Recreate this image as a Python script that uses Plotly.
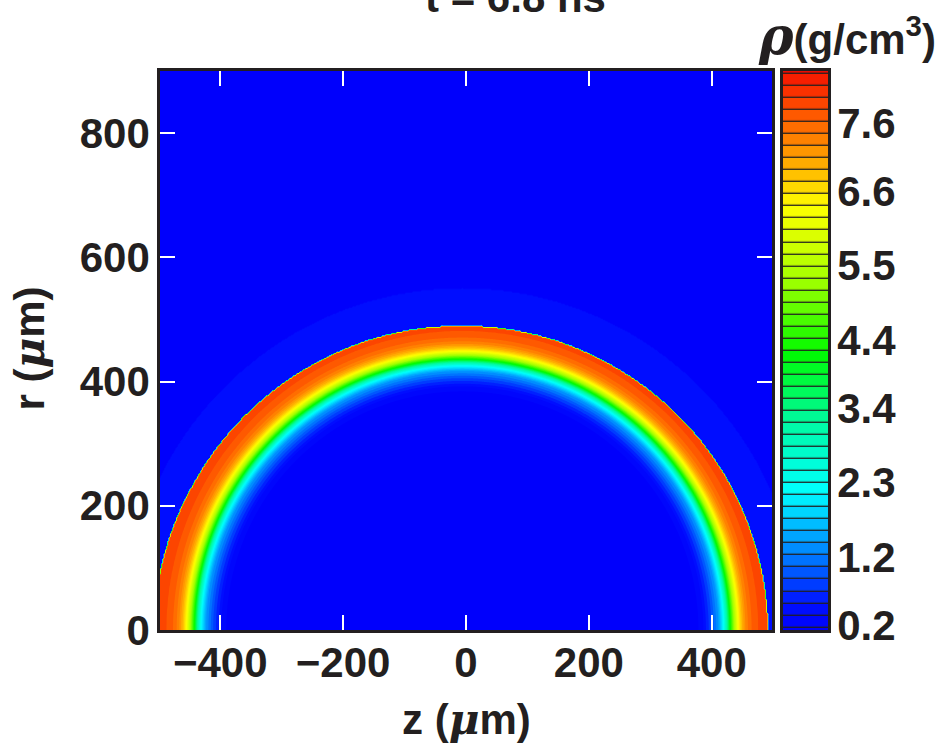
import numpy as np
import plotly.graph_objects as go

INK = "#231f20"
FONT = "Liberation Sans"
FS = 42

# ---- axis ticks -------------------------------------------------------------
Z_TICKS = [-400, -200, 0, 200, 400]
Z_TICK_TEXT = ["\u2212400", "\u2212200", "0", "200", "400"]
R_TICKS = [0, 200, 400, 600, 800]
R_TICK_TEXT = ["0", "200", "400", "600", "800"]
Z_RANGE = [-498, 498]
R_RANGE = [0, 900]

# ---- density scale (g/cm^3) -------------------------------------------------
RHO_TICKS = [0.2, 1.2, 2.3, 3.4, 4.4, 5.5, 6.6, 7.6]
RHO_TICK_TEXT = ["0.2", "1.2", "2.3", "3.4", "4.4", "5.5", "6.6", "7.6"]
RHO_LEVEL_START = 0.163
RHO_LEVEL_STEP = 0.1774
RHO_LEVEL_COUNT = 47
RHO_AXIS_RANGE = [0.126, 8.366]

RHO_COLOR_VALUES = [0.074, 0.5, 1.2, 2.15, 3.2, 4.2, 5.3, 6.35, 7.0, 7.6, 8.41]
RHO_COLORS = ["rgb(0,0,252)", "rgb(0,15,255)", "rgb(0,125,255)", "rgb(0,255,255)",
              "rgb(0,250,160)", "rgb(0,250,0)", "rgb(165,255,0)", "rgb(255,255,0)",
              "rgb(255,170,0)", "rgb(255,100,0)", "rgb(245,10,0)"]

# ---- shell geometry (um) -----------------------------------------------------
SHELL_CENTER_Z = -6.0
SHELL_ANGLE_DEG = [0, 30, 60, 90, 120, 150, 180]
SHELL_OUTER_RADIUS = [497, 494, 490, 489, 491, 496, 502]
HALO_RADIUS = 550.0
HALO_RHO = 0.45
AMBIENT_RHO = 0.1

# density through the shell wall versus distance from the shell centre
SHELL_PROFILE_RADIUS = [380, 390, 396, 405, 417, 425, 431, 436, 443, 449,
                        455, 462, 472, 482, 492, 505]
SHELL_PROFILE_RHO = [0.1, 0.25, 0.5, 0.85, 1.4, 2.15, 3.2, 4.2, 5.4, 6.35,
                     6.9, 7.35, 7.65, 7.8, 7.85, 7.85]

# ---- density field on the (z, r) mesh ---------------------------------------
z = np.arange(-502.0, 502.1, 2.0)
r = np.arange(0.0, 902.1, 2.0)
Z, R = np.meshgrid(z, r)
dz = Z - SHELL_CENTER_Z
dist = np.hypot(dz, R)
theta = np.degrees(np.arctan2(R, dz))
r_out = np.interp(theta, SHELL_ANGLE_DEG, SHELL_OUTER_RADIUS)
wall = np.interp(dist, SHELL_PROFILE_RADIUS, SHELL_PROFILE_RHO)
rho = np.where(dist <= r_out, wall,
               np.where(dist <= HALO_RADIUS, HALO_RHO, AMBIENT_RHO))
rho = np.round(rho, 3)

lo = RHO_LEVEL_START - RHO_LEVEL_STEP / 2
level_end = RHO_LEVEL_START + (RHO_LEVEL_COUNT - 1) * RHO_LEVEL_STEP
hi = level_end + RHO_LEVEL_STEP / 2
colorscale = [[(v - lo) / (hi - lo), c] for v, c in zip(RHO_COLOR_VALUES, RHO_COLORS)]
colorscale[0][0] = 0.0
colorscale[-1][0] = 1.0

fig = go.Figure()
fig.add_trace(go.Contour(
    x=z, y=r, z=rho,
    colorscale=colorscale, autocontour=False,
    contours=dict(start=RHO_LEVEL_START, end=level_end, size=RHO_LEVEL_STEP,
                  coloring="fill", showlines=False),
    line=dict(width=0), showscale=False, hoverinfo="skip",
    xaxis="x", yaxis="y"))

# banded colour key drawn as a one-column heatmap
edges = RHO_LEVEL_START + RHO_LEVEL_STEP * (np.arange(RHO_LEVEL_COUNT + 2) - 1)
mids = (edges[:-1] + edges[1:]) / 2
fig.add_trace(go.Heatmap(
    x=[0], y=edges, z=[[m] for m in mids],
    colorscale=colorscale, zmin=lo, zmax=hi, showscale=False,
    ygap=1.3, hoverinfo="skip", xaxis="x2", yaxis="y2"))

W, H = 944, 752
x0, x1 = 160 / W, 772 / W
y0, y1 = 1 - 630 / H, 1 - 71 / H
cb0, cb1 = 783 / W, 828 / W

bold = dict(family=FONT, size=FS, color=INK, weight="bold")
main_axis = dict(ticks="inside", ticklen=15, tickwidth=2, tickcolor="white",
                 showline=True, linecolor=INK, linewidth=2.5, mirror="allticks",
                 showgrid=False, zeroline=False, tickfont=bold, automargin=False)

GREEK = "font-family:DejaVu Serif;font-style:italic"

fig.update_layout(
    width=W, height=H, margin=dict(l=0, r=0, t=0, b=0, autoexpand=False),
    paper_bgcolor="white", plot_bgcolor=INK, showlegend=False,
    font=bold,
    xaxis=dict(domain=[x0, x1], range=Z_RANGE, tickvals=Z_TICKS, ticktext=Z_TICK_TEXT,
               anchor="y", ticklabelstandoff=-6, **main_axis),
    yaxis=dict(domain=[y0, y1], range=R_RANGE, tickvals=R_TICKS, ticktext=R_TICK_TEXT,
               anchor="x", ticklabelstandoff=-1, **main_axis),
    xaxis2=dict(domain=[cb0, cb1], range=[-0.5, 0.5], anchor="y2", showticklabels=False,
                ticks="", showline=True, linecolor=INK, linewidth=2.5, mirror=True,
                showgrid=False, zeroline=False, automargin=False),
    yaxis2=dict(domain=[y0, y1], range=RHO_AXIS_RANGE, anchor="x2", side="right",
                tickvals=RHO_TICKS, ticktext=RHO_TICK_TEXT, ticks="",
                showline=True, linecolor=INK, linewidth=2.5, mirror=True,
                showgrid=False, zeroline=False, tickfont=bold, ticklabelstandoff=-2,
                automargin=False),
    annotations=[
        dict(text="t = 6.8 ns", x=515 / W, y=1 + 2.6 / H, xref="paper", yref="paper",
             xanchor="center", yanchor="middle", showarrow=False, font=bold),
        dict(text=f"<span style=\"{GREEK};font-size:52px\">\u03c1</span>(g/cm<sup>3</sup>)",
             x=938 / W, y=1 - 36 / H,
             xref="paper", yref="paper", xanchor="right", yanchor="middle",
             showarrow=False, font=bold),
        dict(text=f"z (<span style=\"{GREEK}\">\u03bc</span>m)", x=466.5 / W, y=1 - 719 / H,
             xref="paper", yref="paper", xanchor="center", yanchor="middle",
             showarrow=False, font=bold),
        dict(text=f"r (<span style=\"{GREEK}\">\u03bc</span>m)", x=28.5 / W, y=1 - 349 / H,
             textangle=-90, xref="paper", yref="paper", xanchor="center", yanchor="middle",
             showarrow=False, font=bold),
    ],
)

fig.write_html("out.html", config={"displayModeBar": False})
